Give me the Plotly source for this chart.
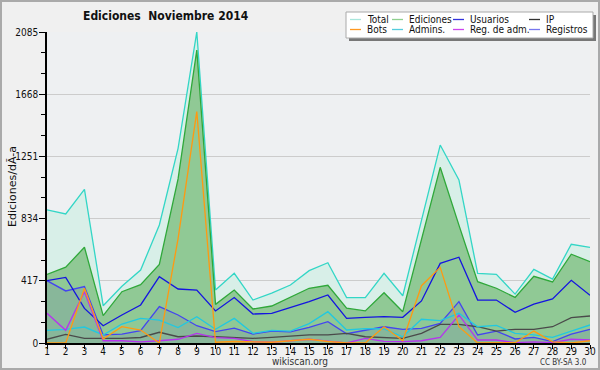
import plotly.graph_objects as go

days = list(range(1, 31))
total = [892, 865, 1030, 250, 380, 489, 791, 1305, 2085, 355, 467, 288, 335, 389, 485,
         538, 304, 304, 467, 317, 822, 1327, 1093, 467, 460, 328, 494, 429, 662, 641]
ediciones = [460, 508, 642, 183, 344, 391, 527, 1100, 1964, 259, 355, 228, 248, 310, 367,
             387, 233, 215, 337, 210, 695, 1178, 790, 411, 367, 306, 447, 409, 595, 545]
usuarios = [418, 440, 232, 116, 188, 255, 445, 362, 355, 215, 305, 194, 199, 237, 277,
            322, 165, 172, 177, 172, 282, 534, 575, 288, 288, 206, 261, 295, 420, 320]
registros = [418, 349, 378, 54, 60, 83, 244, 188, 116, 76, 100, 60, 80, 74, 105,
             143, 62, 87, 109, 92, 98, 132, 277, 54, 80, 27, 38, 10, 60, 92]
admins = [85, 92, 107, 54, 127, 165, 154, 103, 176, 92, 165, 65, 85, 80, 130,
          210, 87, 96, 94, 42, 159, 150, 199, 109, 118, 65, 54, 38, 80, 121]
ip = [25, 58, 31, 31, 31, 37, 72, 42, 47, 42, 36, 31, 38, 47, 54,
      54, 65, 42, 38, 31, 65, 125, 125, 109, 80, 92, 92, 109, 170, 181]
bots = [0, 0, 367, 27, 110, 87, 0, 700, 1551, 5, 10, 5, 5, 15, 25,
        10, 0, 0, 109, 15, 384, 507, 109, 0, 0, 2, 80, 8, 0, 15]
regadm = [199, 85, 344, 15, 15, 8, 15, 25, 65, 36, 31, 9, 5, 13, 25,
          13, 0, 31, 11, 9, 15, 38, 188, 20, 20, 2, 8, 2, 25, 20]

ytick_vals = [0, 417, 834, 1251, 1668, 2085]
ytick_text = ["0", "417", "834", "1251", "1668", "2085"]

legend_rows = [["Total", "Ediciones", "Usuarios", "IP"],
               ["Bots", "Admins.", "Reg. de adm.", "Registros"]]
legend_colors = {"Total": "#a8e6dc", "Ediciones": "#8fd08f", "Usuarios": "#3333dd",
                 "IP": "#333333", "Bots": "#ff9922", "Admins.": "#55ccdd",
                 "Reg. de adm.": "#cc44ee", "Registros": "#7777ee"}

W, H = 600, 370
L, R, T, B = 47, 10, 32, 27
PW, PH = W - L - R, H - T - B

def px(x):
    return (x - L) / PW

def py(y):
    return (H - B - y) / PH

COND = "DejaVu Sans Condensed, Liberation Sans Narrow, Arial Narrow, sans-serif"

fig = go.Figure()
fig.add_trace(go.Scatter(x=days, y=total, mode="lines", fill="tozeroy",
                         fillcolor="#d8efe8", line=dict(color="#33d6c6", width=1.3)))
fig.add_trace(go.Scatter(x=days, y=ediciones, mode="lines", fill="tozeroy",
                         fillcolor="#90c995", line=dict(color="#2fa83a", width=1.3)))
fig.add_trace(go.Scatter(x=days, y=registros, mode="lines", fill="tozeroy",
                         fillcolor="rgba(110,130,170,0.25)", line=dict(color="#4444f0", width=1.3)))
fig.add_trace(go.Scatter(x=days, y=ip, mode="lines", line=dict(color="#4a4a4a", width=1.3)))
fig.add_trace(go.Scatter(x=days, y=admins, mode="lines", line=dict(color="#22c8e0", width=1.3)))
fig.add_trace(go.Scatter(x=days, y=usuarios, mode="lines", line=dict(color="#1414e0", width=1.3)))
fig.add_trace(go.Scatter(x=days, y=regadm, mode="lines", line=dict(color="#b633ee", width=1.3)))
fig.add_trace(go.Scatter(x=days, y=bots, mode="lines", line=dict(color="#ff9911", width=1.3)))

shapes = []
annotations = []

# outer frame
shapes.append(dict(type="rect", xref="paper", yref="paper", x0=px(1), x1=px(599),
                   y0=py(369), y1=py(1), line=dict(color="#aaaaaa", width=2),
                   fillcolor="rgba(0,0,0,0)", layer="above"))

# legend box with shadow
shapes.append(dict(type="rect", xref="paper", yref="paper", x0=px(349), x1=px(596),
                   y0=py(41), y1=py(15), line=dict(width=0), fillcolor="#777777", layer="above"))
shapes.append(dict(type="rect", xref="paper", yref="paper", x0=px(346), x1=px(593),
                   y0=py(38), y1=py(12), line=dict(color="#aaaaaa", width=1),
                   fillcolor="#ffffff", layer="above"))
col_line = [(350, 361), (392, 403), (453, 464), (529, 540)]
col_text = [366, 408, 469, 545]
row_y = [19.5, 29.5]
for r, row in enumerate(legend_rows):
    for c, name in enumerate(row):
        shapes.append(dict(type="line", xref="paper", yref="paper",
                           x0=px(col_line[c][0]), x1=px(col_line[c][1]),
                           y0=py(row_y[r]), y1=py(row_y[r]),
                           line=dict(color=legend_colors[name], width=1.3), layer="above"))
        annotations.append(dict(text=name, xref="paper", yref="paper", x=px(col_text[c]),
                                y=py(row_y[r]), xanchor="left", yanchor="middle", borderpad=0,
                                showarrow=False, font=dict(family=COND, size=10, color="#111111")))

annotations.append(dict(text="<b>Ediciones\u00a0\u00a0Noviembre 2014</b>", xref="paper", yref="paper",
                        x=px(166), y=py(16.5), xanchor="center", yanchor="middle", showarrow=False,
                        font=dict(family=COND, size=12, color="#111111")))
annotations.append(dict(text="wikiscan.org", xref="paper", yref="paper",
                        x=px(300), y=py(361), xanchor="center", yanchor="middle", showarrow=False,
                        font=dict(family=COND, size=10, color="#333333")))
annotations.append(dict(text="CC BY-SA 3.0", xref="paper", yref="paper",
                        x=px(589), y=py(362), xanchor="right", yanchor="middle", showarrow=False,
                        font=dict(family=COND, size=8, color="#333333")))
annotations.append(dict(text="Ediciones/dÃ-a", xref="paper", yref="paper",
                        x=px(12), y=py(187), xanchor="center", yanchor="middle", showarrow=False,
                        textangle=-90,
                        font=dict(family="DejaVu Sans, sans-serif", size=11, color="#111111")))

fig.update_layout(
    width=W, height=H,
    margin=dict(l=L, r=R, t=T, b=B, autoexpand=False),
    paper_bgcolor="#f0f0f0",
    plot_bgcolor="#eef0f2",
    showlegend=False,
    shapes=shapes,
    annotations=annotations,
)
fig.update_xaxes(range=[1, 30], tickmode="array", tickvals=days, automargin=False,
                 ticktext=[str(d) for d in days], showgrid=False, zeroline=False,
                 showline=True, linecolor="#000000", linewidth=1.5,
                 ticks="outside", ticklen=4, tickcolor="#000000", ticklabelstandoff=-6,
                 tickfont=dict(family=COND, size=10, color="#111111"))
fig.update_yaxes(range=[0, 2085], tickmode="array", tickvals=ytick_vals, ticktext=ytick_text,
                 automargin=False,
                 showgrid=True, gridcolor="#cccccc", gridwidth=1, zeroline=False,
                 showline=True, linecolor="#000000", linewidth=1.5,
                 ticks="outside", ticklen=6, tickcolor="#000000", ticklabelstandoff=-1,
                 tickfont=dict(family=COND, size=10, color="#111111"),
                 minor=dict(tickmode="linear", tick0=0, dtick=139, ticks="outside",
                            ticklen=4, tickcolor="#000000", showgrid=False))

fig.write_html("out.html", config={"displayModeBar": False},
               post_script="document.body.style.margin='0';document.body.style.padding='0';document.body.style.overflow='hidden';")
